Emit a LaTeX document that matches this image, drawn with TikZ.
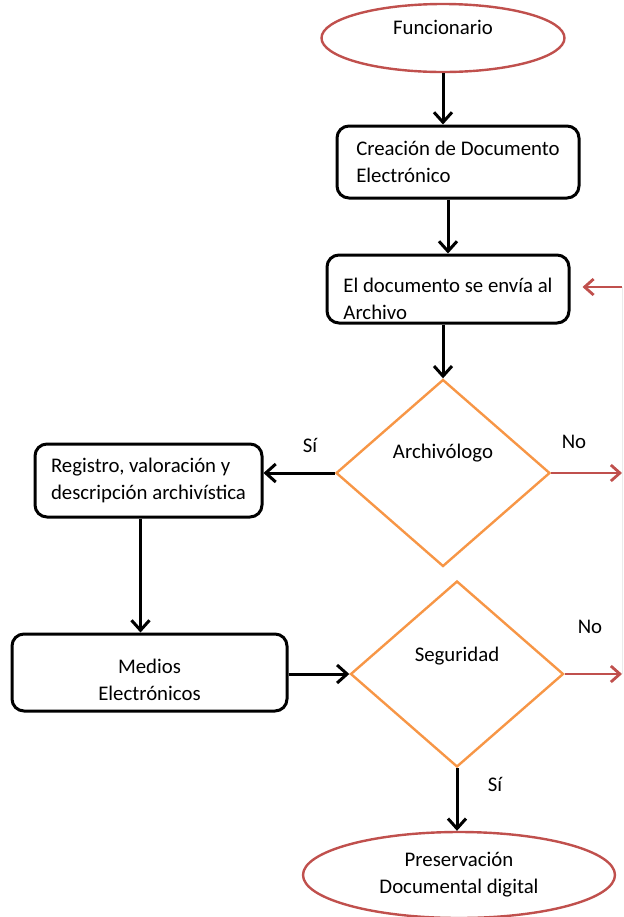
\documentclass[tikz,border=0pt]{standalone}
\usepackage{fontspec}
\setmainfont{Carlito}
\usetikzlibrary{shapes.geometric,arrows.meta}
\definecolor{lineRed}{HTML}{C0504D}
\definecolor{lineOrange}{HTML}{F79646}

\begin{document}
\begin{tikzpicture}[x=0.5pt,y=-0.5pt,
						every node/.style={font=\fontsize{10.4}{13.5}\selectfont},
						startstop/.style={ellipse,draw=lineRed,line width=1.2pt,inner sep=0pt},
						process/.style={draw,rounded corners=6pt,line width=1.5pt,align=left,inner sep=0pt},
						decision/.style={diamond,draw=lineOrange,line width=1.2pt,inner sep=0pt},
						flow/.style={-{Straight Barb[length=5pt,width=9pt]},line width=1.5pt},
						back/.style={-{Straight Barb[length=4.5pt,width=8pt]},draw=lineRed,line width=1.4pt}]

		\useasboundingbox (0,0) rectangle (624,917);

		\node[startstop,minimum width=121.5pt,minimum height=34pt,
			label={[yshift=5.5pt]center:Funcionario}] (func) at (443,38) {};
		\node[process,minimum width=121pt,minimum height=36pt] (crea) at (458,162) {Creación de Documento\\Electrónico};
		\node[process,minimum width=121pt,minimum height=34pt] (env) at (448,289) {\rule{0pt}{16.8pt}El documento se envía al\\Archivo};
		\node[decision,minimum width=107pt,minimum height=93.5pt,
			label={[yshift=10pt]center:Archivólogo}] (arch) at (443,473) {};
		\node[process,minimum width=113.5pt,minimum height=36.5pt] (reg) at (148.5,480.5) {Registro, valoración y\\descripción archivística};
		\node[process,align=center,minimum width=137.5pt,minimum height=38.5pt] (med) at (149.5,672.5) {\rule{0pt}{14.8pt}Medios\\Electrónicos};
		\node[decision,minimum width=106.5pt,minimum height=93pt,
			label={[yshift=9pt]center:Seguridad}] (seg) at (457,674) {};
		\node[startstop,align=center,minimum width=156pt,minimum height=43pt] (pres) at (459,875) {Preservación\\Documental digital};

		\node (si1) at (310,445) {Sí};
		\node (no1) at (574,442) {No};
		\node (no2) at (590,627) {No};
		\node (si2) at (495,784) {Sí};

		\coordinate (rArch) at (622,473);
		\coordinate (rSeg) at (622,674);
		\coordinate (rTop) at (622,287);

		\draw[flow] (func.south) -- (func.south |- crea.north);
		\draw[flow] (crea.south -| env.north) -- (env.north);
		\draw[flow] (arch.north |- env.south) -- (arch.north);
		\draw[flow] (arch.west) -- (arch.west -| reg.east);
		\draw[flow] ([xshift=-4pt]reg.south) -- ([xshift=-4pt]reg.south |- med.north);
		\draw[flow] (med.east |- seg.west) -- (seg.west);
		\draw[flow] (seg.south) -- (seg.south |- pres.north);

		\draw[back] (arch.east) -- (rArch);
		\draw[back] (seg.east) -- (rSeg);
		\draw[back,shorten >=6pt] (rTop) -- (rTop -| env.east);
		\draw[black!8,line width=0.5pt] (rTop) -- (rSeg);

	\end{tikzpicture}
\end{document}
